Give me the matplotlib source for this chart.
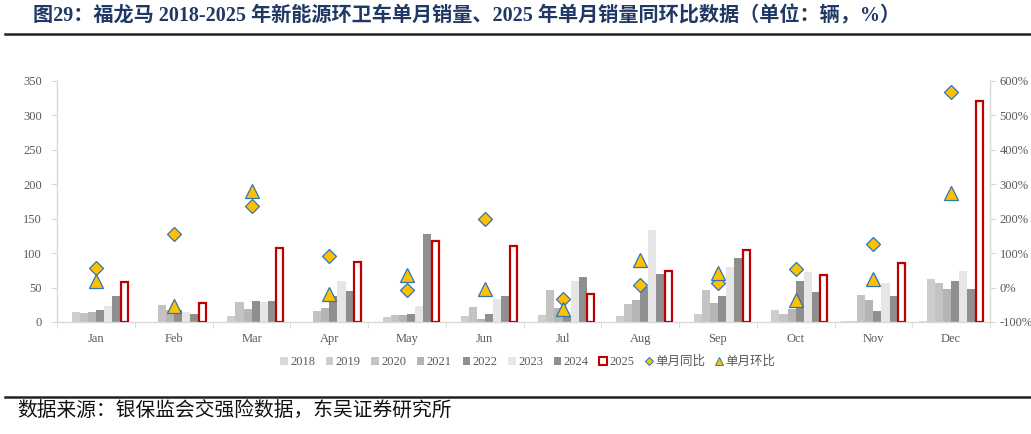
import matplotlib
matplotlib.use("Agg")
import matplotlib.pyplot as plt
import numpy as np
from matplotlib.patches import Patch
from matplotlib.lines import Line2D
from matplotlib.ticker import FuncFormatter, FixedLocator

months = ['Jan', 'Feb', 'Mar', 'Apr', 'May', 'Jun', 'Jul', 'Aug', 'Sep', 'Oct', 'Nov', 'Dec']
s2018 = [0, 0, 0, 0, 0, 0, 0, 0, 0, 0, 1, 1]
s2019 = [15, 0, 8, 0, 7, 8, 10, 9, 11, 17, 1, 63]
s2020 = [13, 24, 29, 16, 10, 22, 46, 26, 46, 11, 39, 56]
s2021 = [15, 17, 19, 20, 10, 5, 20, 32, 28, 19, 32, 48]
s2022 = [18, 18, 31, 37, 11, 11, 8, 51, 37, 60, 16, 59]
s2023 = [23, 14, 29, 59, 23, 33, 60, 134, 80, 72, 57, 74]
s2024 = [37, 11, 31, 45, 128, 37, 65, 69, 93, 44, 38, 48]
s2025 = [58, 28, 107, 87, 117, 110, 41, 74, 105, 68, 86, 320]
yoy = [57, 155, 236, 91, -7, 198, -34, 7, 14, 55, 125, 567]   # 单月同比 (%)
mom = [20, -53, 281, -20, 36, -5, -63, 80, 41, -36, 26, 275]  # 单月环比 (%)

years = ['2018', '2019', '2020', '2021', '2022', '2023', '2024', '2025']
series = [s2018, s2019, s2020, s2021, s2022, s2023, s2024, s2025]
colors = ['#d9d9d9', '#cdcdcd', '#c3c3c3', '#b5b5b5', '#8f8f8f', '#e6e6e6', '#8f8f8f', 'white']

serif = ['Liberation Serif', 'Noto Sans CJK SC', 'DejaVu Sans']
tick_col = '#595959'
axis_col = '#d9d9d9'

fig = plt.figure(figsize=(10.31, 4.34), dpi=100)
ax = fig.add_axes([0.0556, 0.2581, 0.9046, 0.556])
ax2 = ax.twinx()

x = np.arange(len(months))
w = 0.104
for i, (yr, vals, c) in enumerate(zip(years, series, colors)):
    pos = x + (i - 3.5) * w
    if yr == '2025':
        ax.bar(pos, vals, w * 0.86, facecolor='white', edgecolor='#c00000', linewidth=1.6, zorder=3)
    else:
        ax.bar(pos, vals, w, color=c, linewidth=0, zorder=2)

ax2.plot(x, yoy, linestyle='none', marker='D', ms=7.0, mfc='#ffc000', mec='#2e75b6', mew=0.9, zorder=5)
ax2.plot(x, mom, linestyle='none', marker='^', ms=9.5, mfc='#ffc000', mec='#2e75b6', mew=0.9, zorder=5)

ax.set_xlim(-0.5, 11.5)
ax.set_ylim(0, 350)
ax.set_yticks(np.arange(0, 351, 50))
ax2.set_ylim(-100, 600)
ax2.set_yticks(np.arange(-100, 601, 100))
ax2.yaxis.set_major_formatter(FuncFormatter(lambda v, p: f'{v:.0f}%'))

ax.set_xticks(x)
ax.set_xticklabels(months)
ax.xaxis.set_minor_locator(FixedLocator(np.arange(-0.5, 12, 1.0)))
ax.tick_params(axis='x', which='major', length=0, pad=8, labelsize=9, labelcolor=tick_col)
ax.tick_params(axis='x', which='minor', length=4, color=axis_col, direction='out')
ax.tick_params(axis='y', length=4, color=axis_col, pad=7, labelsize=9, labelcolor=tick_col)
ax2.tick_params(axis='y', length=4, color=axis_col, pad=3, labelsize=9, labelcolor=tick_col)

for lab in ax.get_xticklabels() + ax.get_yticklabels() + ax2.get_yticklabels():
    lab.set_family(serif)

for a in (ax, ax2):
    a.spines['top'].set_visible(False)
    for s in ('left', 'right', 'bottom'):
        a.spines[s].set_color(axis_col)
        a.spines[s].set_linewidth(1.0)
ax.spines['right'].set_visible(False)
ax2.spines['left'].set_visible(False)
ax2.spines['bottom'].set_visible(False)

# legend
handles = []
for yr, c in zip(years, colors):
    if yr == '2025':
        handles.append(Patch(facecolor='white', edgecolor='#c00000', linewidth=1.5))
    else:
        handles.append(Patch(facecolor=c, edgecolor='none'))
handles.append(Line2D([], [], linestyle='none', marker='D', ms=4.5, mfc='#ffc000', mec='#2e75b6', mew=0.7))
handles.append(Line2D([], [], linestyle='none', marker='^', ms=6, mfc='#ffc000', mec='#2e75b6', mew=0.7))
labels = years + ['单月同比', '单月环比']
leg = fig.legend(handles, labels, ncol=10, loc='center', bbox_to_anchor=(0.512, 0.166),
                 frameon=False, handlelength=0.6, handleheight=0.6, handletextpad=0.2,
                 columnspacing=0.85, prop={'family': serif, 'size': 9})
for t in leg.get_texts():
    t.set_color(tick_col)

# title and footer
title = '图29：福龙马 2018-2025 年新能源环卫车单月销量、2025 年单月销量同环比数据（单位：辆，%）'
fig.text(0.032, 0.963, title, fontsize=14.5, fontweight='bold', color='#1f3864',
         family=serif, va='center', ha='left')
fig.add_artist(Line2D([0.005, 1.0], [0.9217, 0.9217], color='#222222', lw=1.8, transform=fig.transFigure))
fig.add_artist(Line2D([0.005, 1.0], [0.0860, 0.0860], color='#222222', lw=1.8, transform=fig.transFigure))
fig.text(0.0165, 0.052, '数据来源：银保监会交强险数据，东吴证券研究所', fontsize=14.2,
         color='#111111', family=['Noto Sans CJK SC', 'DejaVu Sans'], va='center', ha='left')

fig.savefig('out.png', dpi=100)
